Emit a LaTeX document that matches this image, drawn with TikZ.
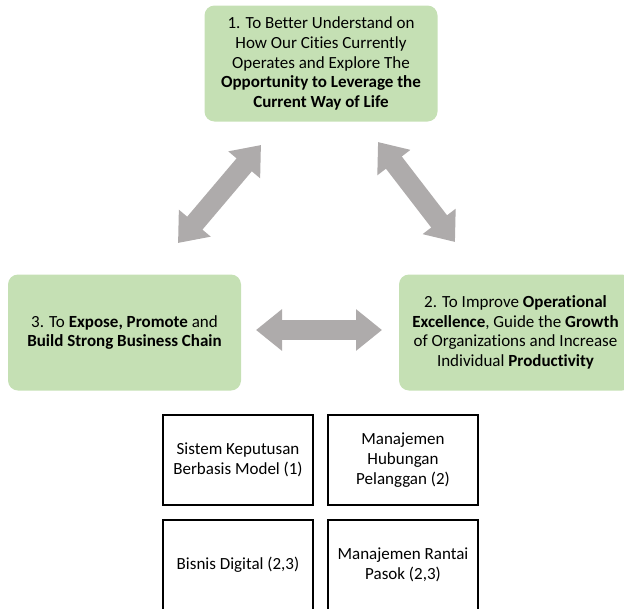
\documentclass[tikz,border=0pt]{standalone}
\usepackage{fontspec}
\setmainfont{Carlito}[Ligatures={NoCommon}]
\usetikzlibrary{arrows.meta}
\definecolor{goalgreen}{HTML}{C5E0B4}
\definecolor{linkgray}{HTML}{AEABAB}
\begin{document}
\begin{tikzpicture}[x=1pt,y=-1pt,
  goal/.style={fill=goalgreen,rounded corners=10pt,inner sep=0pt,
    minimum width=233pt,minimum height=116pt,align=center,
    font=\fontsize{17}{19.7}\selectfont},
  topic/.style={draw=black,line width=1.2pt,fill=white,inner sep=0pt,
    minimum width=150pt,minimum height=90pt,align=center,
    font=\fontsize{17}{19.7}\selectfont},
  link/.style={draw=linkgray,line width=20pt,
    {Triangle[width=40pt,length=26pt]}-{Triangle[width=40pt,length=26pt]}}]
\useasboundingbox (0,0) rectangle (624,608);
\begin{scope}
\clip (0,0) rectangle (624,608);
% three goals
\node[goal] (g1) at (321,63.5) {1. To Better Understand on\\How Our Cities Currently\\Operates and Explore The\\\textbf{Opportunity to Leverage the}\\\textbf{Current Way of Life}};
\node[goal] (g3) at (124.5,332.5) {3. To \textbf{Expose, Promote} and\\\textbf{Build Strong Business Chain}};
\node[goal] (g2) at (515.5,332.5) {2. To Improve \textbf{Operational}\\\textbf{Excellence}, Guide the \textbf{Growth}\\of Organizations and Increase\\Individual \textbf{Productivity}};
% links between goals
\coordinate (l1a) at (178,243);
\coordinate (l1b) at (261,145);
\coordinate (l2a) at (378,142);
\coordinate (l2b) at (455,242);
\coordinate (l3a) at (256,330);
\coordinate (l3b) at (382,330);
\draw[link] (l1a) -- (l1b);
\draw[link] (l2a) -- (l2b);
\draw[link] (l3a) -- (l3b);
% topics
\node[topic] (t1) at (238,460) {Sistem Keputusan\\Berbasis Model (1)};
\node[topic] (t2) at (403,460) {Manajemen\\Hubungan\\Pelanggan (2)};
\node[topic] (t3) at (238,565) {Bisnis Digital (2,3)};
\node[topic] (t4) at (403,565) {Manajemen Rantai\\Pasok (2,3)};
\end{scope}
\end{tikzpicture}
\end{document}
